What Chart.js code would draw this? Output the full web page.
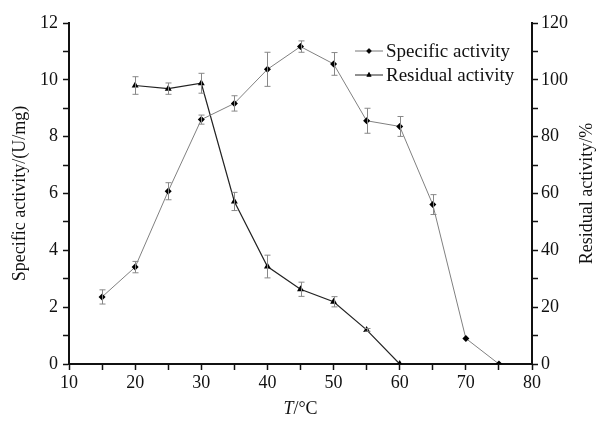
<!DOCTYPE html>
<html>
<head>
<meta charset="utf-8">
<script src="https://cdn.jsdelivr.net/npm/chart.js@4.4.0/dist/chart.umd.min.js"></script>
<style>
  html, body { margin: 0; padding: 0; background: #fff; }
  #wrap { width: 601px; height: 421px; position: relative; }
</style>
</head>
<body>
<div id="wrap"><canvas id="chart" width="601" height="421"></canvas></div>
<script>
// temperature, °C
const temps = [15, 20, 25, 30, 35, 40, 45, 50, 55, 60, 65, 70, 75];
// specific activity, U/mg
const specific = [2.36, 3.41, 6.08, 8.6, 9.17, 10.37, 11.17, 10.56, 8.56, 8.36, 5.61, 0.9, 0];
const specificErr = [0.25, 0.2, 0.3, 0.16, 0.27, 0.6, 0.2, 0.4, 0.44, 0.35, 0.35, 0, 0];
// residual activity, % (measured from 20 °C)
const residualTemps = [20, 25, 30, 35, 40, 45, 50, 55, 60];
const residual = [98.0, 96.9, 98.8, 57.2, 34.3, 26.3, 21.9, 12.0, 0];
const residualErr = [3.1, 2.0, 3.5, 3.2, 4.0, 2.5, 1.8, 0.5, 0];

const xTicks = [10, 20, 30, 40, 50, 60, 70, 80];
const leftTicks = [0, 2, 4, 6, 8, 10, 12];
const rightTicks = [0, 20, 40, 60, 80, 100, 120];

const FONT = "'Liberation Serif', 'Times New Roman', serif";

const specificPts = temps.map((t, i) => ({ x: t, y: specific[i], err: specificErr[i] }));
const residualPts = residualTemps.map((t, i) => ({ x: t, y: residual[i], err: residualErr[i] }));

const errorBars = {
  id: 'errorBars',
  afterDatasetsDraw(chart) {
    const ctx = chart.ctx;
    const xs = chart.scales.x;
    ctx.save();
    ctx.strokeStyle = '#888';
    ctx.lineWidth = 1;
    chart.data.datasets.forEach((ds) => {
      const ys = chart.scales[ds.yAxisID];
      ds.data.forEach((p) => {
        if (!p.err) return;
        const px = Math.round(xs.getPixelForValue(p.x)) + 0.5;
        const top = ys.getPixelForValue(p.y + p.err);
        const bot = ys.getPixelForValue(p.y - p.err);
        ctx.beginPath();
        ctx.moveTo(px, top); ctx.lineTo(px, bot);
        ctx.moveTo(px - 3, top); ctx.lineTo(px + 3, top);
        ctx.moveTo(px - 3, bot); ctx.lineTo(px + 3, bot);
        ctx.stroke();
      });
    });
    ctx.restore();
  }
};

const extras = {
  id: 'extras',
  afterDraw(chart) {
    const ctx = chart.ctx;
    const area = chart.chartArea;
    ctx.save();
    ctx.fillStyle = '#111';
    // x-axis title with italic T
    ctx.textBaseline = 'alphabetic';
    ctx.textAlign = 'left';
    const cx = (area.left + area.right) / 2;
    ctx.font = 'italic 18px ' + FONT;
    const wT = ctx.measureText('T').width;
    ctx.font = '18px ' + FONT;
    const wRest = ctx.measureText('/°C').width;
    const start = cx - (wT + wRest) / 2;
    ctx.font = 'italic 18px ' + FONT;
    ctx.fillText('T', start, 414);
    ctx.font = '18px ' + FONT;
    ctx.fillText('/°C', start + wT, 414);

    // rotated y titles, both read bottom to top
    const midY = (area.top + area.bottom) / 2;
    [['Specific activity/(U/mg)', 20], ['Residual activity/%', 587]].forEach(([txt, x]) => {
      ctx.save();
      ctx.translate(x, midY);
      ctx.rotate(-Math.PI / 2);
      ctx.textAlign = 'center';
      ctx.textBaseline = 'middle';
      ctx.font = '18px ' + FONT;
      ctx.fillText(txt, 0, 0);
      ctx.restore();
    });

    // legend
    const items = [
      { label: 'Specific activity', style: 'rectRot', color: '#777', y: 51 },
      { label: 'Residual activity', style: 'triangle', color: '#222', y: 75 }
    ];
    ctx.font = '19px ' + FONT;
    ctx.textAlign = 'left';
    items.forEach((it) => {
      ctx.strokeStyle = it.color;
      ctx.lineWidth = 1;
      ctx.beginPath();
      ctx.moveTo(355, it.y); ctx.lineTo(383, it.y);
      ctx.stroke();
      ctx.fillStyle = '#000';
      Chart.helpers.drawPoint(ctx, { pointStyle: it.style, radius: 2.5, borderWidth: 1 }, 369, it.y);
      ctx.fill();
      ctx.fillStyle = '#111';
      ctx.textBaseline = 'middle';
      ctx.fillText(it.label, 386, it.y + 1);
    });
    ctx.restore();
  }
};

function tickGrid() {
  return {
    display: true,
    drawOnChartArea: false,
    drawTicks: true,
    tickLength: 6,
    tickColor: '#111',
    tickWidth: 1.5
  };
}

new Chart(document.getElementById('chart').getContext('2d'), {
  type: 'line',
  data: {
    datasets: [
      {
        label: 'Specific activity',
        data: specificPts,
        yAxisID: 'y',
        borderColor: '#808080',
        borderWidth: 1,
        pointStyle: 'rectRot',
        pointRadius: 3.5,
        pointBackgroundColor: '#000',
        pointBorderColor: '#000',
        pointBorderWidth: 0,
        tension: 0
      },
      {
        label: 'Residual activity',
        data: residualPts,
        yAxisID: 'y1',
        borderColor: '#222',
        borderWidth: 1.2,
        pointStyle: 'triangle',
        pointRadius: 4,
        pointBackgroundColor: '#000',
        pointBorderColor: '#000',
        pointBorderWidth: 0,
        tension: 0
      }
    ]
  },
  options: {
    responsive: false,
    animation: false,
    layout: { padding: { top: 23, left: 0, right: 0, bottom: 0 } },
    plugins: { legend: { display: false }, tooltip: { enabled: false } },
    scales: {
      x: {
        type: 'linear',
        min: 10, max: 80,
        border: { display: true, color: '#111', width: 2 },
        grid: tickGrid(),
        ticks: {
          stepSize: 5,
          autoSkip: false,
          maxRotation: 0,
          padding: 2,
          color: '#111',
          font: { family: FONT, size: 18 },
          callback: (v) => xTicks.includes(v) ? String(v) : ''
        },
        afterFit(s) { s.height = 421 - 364; }
      },
      y: {
        type: 'linear',
        position: 'left',
        min: 0, max: 12,
        border: { display: true, color: '#111', width: 2 },
        grid: tickGrid(),
        ticks: {
          stepSize: 1,
          autoSkip: false,
          padding: 5,
          color: '#111',
          font: { family: FONT, size: 18 },
          callback: (v) => leftTicks.includes(v) ? String(v) : ''
        },
        afterFit(s) { s.width = 69; }
      },
      y1: {
        type: 'linear',
        position: 'right',
        min: 0, max: 120,
        border: { display: true, color: '#111', width: 2 },
        grid: tickGrid(),
        ticks: {
          stepSize: 10,
          autoSkip: false,
          padding: 3,
          color: '#111',
          font: { family: FONT, size: 18 },
          callback: (v) => rightTicks.includes(v) ? String(v) : ''
        },
        afterFit(s) { s.width = 601 - 532; }
      }
    }
  },
  plugins: [errorBars, extras]
});
</script>
</body>
</html>
